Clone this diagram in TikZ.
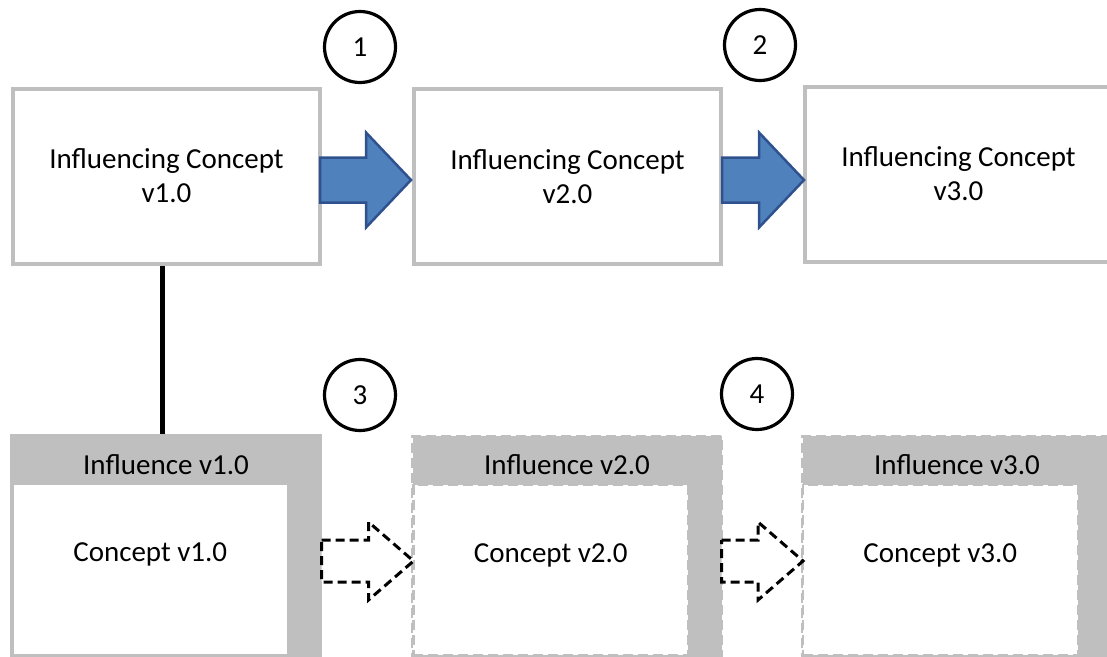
\documentclass[tikz,border=0pt]{standalone}
\usepackage{fontspec}
\setmainfont{Carlito}
\usetikzlibrary{calc}

\definecolor{framegray}{HTML}{BFBFBF}
\definecolor{arrowblue}{HTML}{4F81BD}
\definecolor{arrowedge}{HTML}{2F528F}

\begin{document}
\begin{tikzpicture}[x=1pt,y=-1pt,
  txt/.style={font=\fontsize{29}{34}\selectfont, text=black},
  conceptbox/.style={txt, draw=framegray, line width=4pt, fill=white,
    minimum width=307pt, minimum height=175pt, inner sep=0pt, align=center},
  numcircle/.style={txt, draw=black, line width=3.2pt, circle,
    minimum size=71pt, inner sep=0pt},
  holder/.style={fill=framegray, draw=framegray, line width=3pt,
    minimum width=309pt, minimum height=260pt, inner sep=0pt, anchor=north},
  ghostholder/.style={holder, dash pattern=on 10pt off 5pt},
  inner/.style={fill=white, draw=framegray, line width=1.5pt,
    minimum width=275pt, minimum height=170pt, inner sep=0pt, anchor=north west},
  ghostinner/.style={inner, line width=2.5pt, dash pattern=on 10pt off 5pt},
  link/.style={draw=black, line width=5pt},
  % block arrow drawn as a 'to' path: #1 shaft half-width, #2 head half-width, #3 head length
  blockshape/.style n args={3}{to path={
    let \p1=(\tikztostart), \p2=(\tikztotarget) in
    (\x1,\y1+#1) -- (\x2-#3,\y1+#1) -- (\x2-#3,\y1+#2) -- (\x2,\y1)
    -- (\x2-#3,\y1-#2) -- (\x2-#3,\y1-#1) -- (\x1,\y1-#1) -- cycle}},
  bluearrow/.style={blockshape={22.5pt}{47.5pt}{45pt},
    fill=arrowblue, draw=arrowedge, line width=2.5pt, line join=miter},
  ghostarrow/.style={blockshape={21pt}{39pt}{45pt},
    fill=white, draw=black, line width=3pt, dash pattern=on 9pt off 5pt,
    line join=miter}
]
\useasboundingbox (0,0) rectangle (1107,656);
\clip (0,0) rectangle (1107,656);

% link from the first influencing concept down to its influence
\node[holder] (g1) at (166,433.5) {};
\coordinate (lt) at (162.5,265);
\draw[link] (lt) -- (lt |- g1.north);

% influencing concepts
\node[conceptbox] (t1) at (166.5,176) {Influencing Concept\\v1.0};
\node[conceptbox] (t2) at (567.5,176.5) {Influencing Concept\\v2.0};
\node[conceptbox] (t3) at (958.5,174) {Influencing Concept\\v3.0};

% version steps between the influencing concepts
\draw[bluearrow] ($(t1.east)+(-2,4)$) to ($(t2.west)+(-1,4)$);
\draw[bluearrow] ($(t2.east)+(-1,3.5)$) to ($(t3.west)+(1,3.5)$);

% numbered markers
\node[numcircle] (n1) at (360,47) {1};
\node[numcircle] (n2) at (760,45) {2};
\node[numcircle] (n3) at (360,395) {3};
\node[numcircle] (n4) at (757,394) {4};

% influences with their concepts
\node[ghostholder] (g2) at (567,434.5) {};
\node[ghostholder] (g3) at (957,434.5) {};

\node[inner] (c1) at ($(g1.north west)+(2,50)$) {};
\node[ghostinner] (c2) at ($(g2.north west)+(1,49)$) {};
\node[ghostinner] (c3) at ($(g3.north west)+(0.5,49)$) {};

\node[txt] (h1) at ($(g1.north)+(0,31)$) {Influence v1.0};
\node[txt] (h2) at ($(g2.north)+(0,30.5)$) {Influence v2.0};
\node[txt] (h3) at ($(g3.north)+(0,30.5)$) {Influence v3.0};

\node[txt] (k1) at ($(c1.north)+(0,71)$) {Concept v1.0};
\node[txt] (k2) at ($(c2.north)+(0,72)$) {Concept v2.0};
\node[txt] (k3) at ($(c3.north)+(0,72)$) {Concept v3.0};

% version steps between the influences
\draw[ghostarrow] ($(g1.north east)+(-0.5,127.5)$) to ($(g2.north west)+(2.5,127.5)$);
\draw[ghostarrow] ($(g2.north east)+(-1.5,126.5)$) to ($(g3.north west)+(2,126.5)$);
\end{tikzpicture}
\end{document}
